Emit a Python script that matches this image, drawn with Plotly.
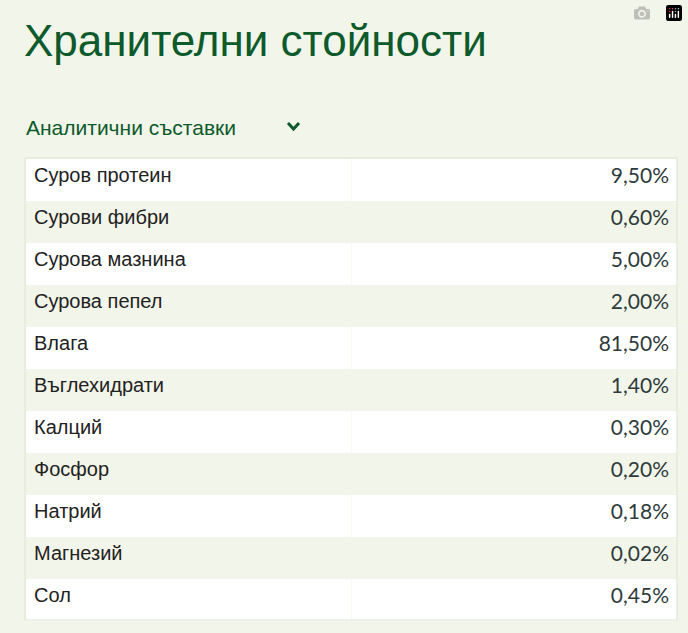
import plotly.graph_objects as go

labels = ["Суров протеин", "Сурови фибри", "Сурова мазнина", "Сурова пепел", "Влага",
          "Въглехидрати", "Калций", "Фосфор", "Натрий", "Магнезий", "Сол"]
values = ["9,50%", "0,60%", "5,00%", "2,00%", "81,50%", "1,40%", "0,30%", "0,20%", "0,18%", "0,02%", "0,45%"]

W, H = 688, 633
BG = "#f2f5e9"
fills = ["#ffffff" if i % 2 == 0 else "#f2f5e9" for i in range(len(labels))]

fig = go.Figure(go.Table(
    domain=dict(x=[26/W, 677/W], y=[1-621/H, 1-158/H]),
    columnwidth=[1, 1],
    header=dict(values=["", ""], height=1, fill_color="rgba(0,0,0,0)", line=dict(width=0)),
    cells=dict(values=[labels, values], height=42,
               align=["left", "right"],
               fill_color=[fills, fills],
               line=dict(width=0, color="rgba(0,0,0,0)"),
               font=dict(family=["Liberation Sans", "Lato"], size=[20, 21], color=["#222222", "#2f3b3b"]),
               ),
))
fig.update_layout(width=W, height=H, margin=dict(l=0, r=0, t=0, b=0),
                  paper_bgcolor=BG, plot_bgcolor=BG)
fig.add_shape(type="rect", xref="paper", yref="paper", x0=25/W, x1=677/W, y0=1-620/H, y1=1-158/H,
              line=dict(color="#dde3d2", width=1), layer="above")
fig.add_annotation(text="Хранителни стойности", xref="paper", yref="paper", x=22/W, y=1-40/H,
                   xanchor="left", yanchor="middle", showarrow=False,
                   font=dict(family="Liberation Sans", size=44, color="#0d5a2c"))
fig.add_annotation(text="Аналитични съставки", xref="paper", yref="paper", x=24/W, y=1-127/H,
                   xanchor="left", yanchor="middle", showarrow=False,
                   font=dict(family="Liberation Sans", size=21, color="#0d5a2c"))
fig.add_shape(type="path", xref="paper", yref="paper",
              path=f"M {288/W} {1-123/H} L {293.5/W} {1-129/H} L {299/W} {1-123/H}",
              line=dict(color="#0d5a2c", width=3))
fig.write_html("out.html")
with open("out.html", encoding="utf-8") as f:
    html = f.read()
html = html.replace("<body>", '<body style="margin:0;background:#f2f5e9">', 1)
with open("out.html", "w", encoding="utf-8") as f:
    f.write(html)
